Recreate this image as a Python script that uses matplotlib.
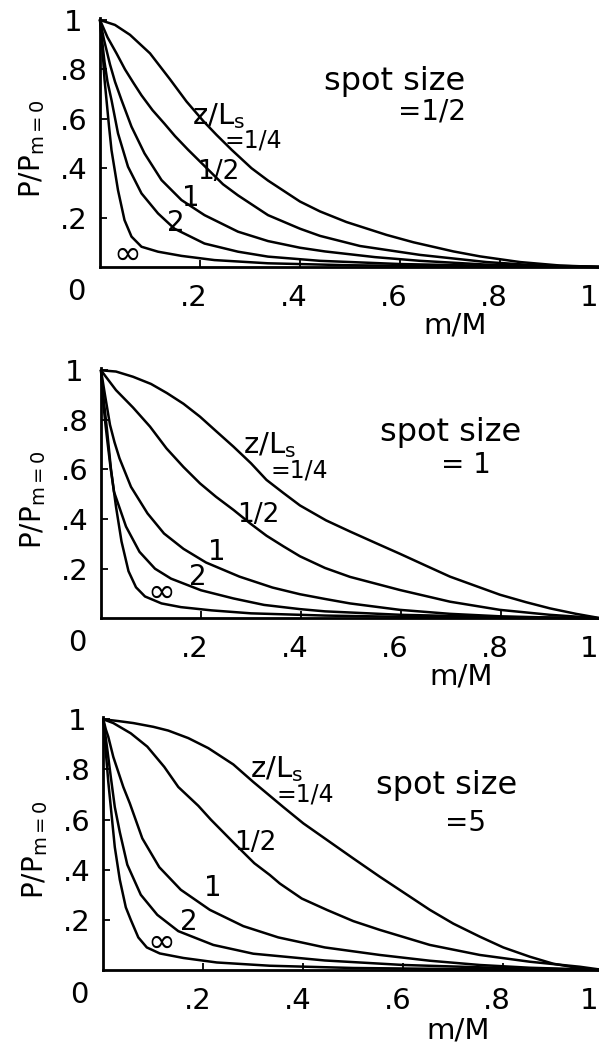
import matplotlib
matplotlib.use("Agg")
import matplotlib.pyplot as plt
from matplotlib.transforms import ScaledTranslation

plt.rcParams['font.family'] = ['DejaVu Sans']
plt.rcParams['mathtext.default'] = 'regular'

# ---------------- data ----------------
tick_vals = [0.2, 0.4, 0.6, 0.8, 1.0]
tick_labels = ['.2', '.4', '.6', '.8', '1']
spot_sizes = ['=1/2', '= 1', '=5']
curve_names = ['=1/4', '1/2', '1', '2', '\u221e']

# panel 1 : spot size = 1/2
p1_q_x = [0, 0.03, 0.06, 0.10, 0.14, 0.173, 0.207, 0.233, 0.263, 0.303, 0.336, 0.40, 0.44, 0.493, 0.573, 0.627, 0.707, 0.76, 0.84, 0.92, 1.0]
p1_q_y = [1.0, 0.98, 0.94, 0.865, 0.76, 0.67, 0.59, 0.535, 0.475, 0.40, 0.35, 0.265, 0.225, 0.182, 0.13, 0.10, 0.063, 0.043, 0.02, 0.006, 0.0]
p1_h_x = [0, 0.015, 0.033, 0.05, 0.067, 0.083, 0.105, 0.129, 0.15, 0.176, 0.216, 0.246, 0.276, 0.336, 0.40, 0.44, 0.52, 0.64, 0.773, 0.87, 1.0]
p1_h_y = [1.0, 0.93, 0.865, 0.80, 0.745, 0.695, 0.635, 0.58, 0.53, 0.475, 0.395, 0.335, 0.29, 0.21, 0.155, 0.126, 0.085, 0.049, 0.02, 0.007, 0.0]
p1_1_x = [0, 0.008, 0.02, 0.03, 0.043, 0.063, 0.089, 0.123, 0.163, 0.209, 0.276, 0.336, 0.40, 0.45, 0.55, 0.64, 0.77, 0.88, 1.0]
p1_1_y = [1.0, 0.92, 0.82, 0.75, 0.676, 0.568, 0.46, 0.352, 0.271, 0.21, 0.143, 0.105, 0.078, 0.063, 0.04, 0.025, 0.01, 0.004, 0.0]
p1_2_x = [0, 0.004, 0.009, 0.015, 0.023, 0.036, 0.056, 0.083, 0.116, 0.149, 0.209, 0.276, 0.336, 0.44, 0.6, 0.8, 1.0]
p1_2_y = [1.0, 0.92, 0.83, 0.75, 0.676, 0.541, 0.406, 0.298, 0.217, 0.155, 0.095, 0.062, 0.042, 0.025, 0.012, 0.004, 0.0]
p1_inf_x = [0, 0.003, 0.006, 0.009, 0.013, 0.018, 0.023, 0.036, 0.049, 0.063, 0.083, 0.116, 0.163, 0.229, 0.336, 0.5, 0.7, 1.0]
p1_inf_y = [1.0, 0.93, 0.85, 0.76, 0.676, 0.57, 0.473, 0.311, 0.19, 0.123, 0.082, 0.062, 0.045, 0.028, 0.015, 0.007, 0.003, 0.0]

# panel 2 : spot size = 1
p2_q_x = [0, 0.03, 0.064, 0.10, 0.132, 0.165, 0.198, 0.23, 0.265, 0.30, 0.331, 0.365, 0.398, 0.45, 0.498, 0.55, 0.598, 0.65, 0.698, 0.75, 0.798, 0.85, 0.898, 0.95, 1.0]
p2_q_y = [1.0, 0.995, 0.974, 0.945, 0.908, 0.865, 0.813, 0.755, 0.692, 0.625, 0.558, 0.505, 0.455, 0.395, 0.35, 0.303, 0.26, 0.212, 0.168, 0.13, 0.095, 0.065, 0.04, 0.018, 0.0]
p2_h_x = [0, 0.015, 0.03, 0.064, 0.098, 0.131, 0.165, 0.198, 0.23, 0.265, 0.30, 0.331, 0.365, 0.398, 0.448, 0.498, 0.598, 0.698, 0.798, 0.898, 1.0]
p2_h_y = [1.0, 0.96, 0.92, 0.85, 0.773, 0.685, 0.61, 0.544, 0.49, 0.437, 0.38, 0.333, 0.29, 0.25, 0.203, 0.167, 0.114, 0.067, 0.034, 0.014, 0.0]
p2_1_x = [0, 0.004, 0.008, 0.013, 0.018, 0.027, 0.037, 0.06, 0.093, 0.126, 0.165, 0.21, 0.277, 0.343, 0.398, 0.448, 0.498, 0.598, 0.698, 0.798, 0.9, 1.0]
p2_1_y = [1.0, 0.95, 0.9, 0.84, 0.78, 0.71, 0.645, 0.53, 0.423, 0.342, 0.28, 0.225, 0.168, 0.124, 0.097, 0.078, 0.06, 0.034, 0.018, 0.008, 0.003, 0.0]
p2_2_x = [0, 0.005, 0.009, 0.013, 0.019, 0.026, 0.05, 0.077, 0.108, 0.14, 0.2, 0.265, 0.326, 0.398, 0.448, 0.6, 0.8, 1.0]
p2_2_y = [1.0, 0.86, 0.78, 0.71, 0.61, 0.51, 0.37, 0.268, 0.2, 0.16, 0.113, 0.08, 0.054, 0.037, 0.028, 0.014, 0.005, 0.0]
p2_inf_x = [0, 0.003, 0.006, 0.012, 0.02, 0.03, 0.041, 0.055, 0.07, 0.088, 0.121, 0.16, 0.221, 0.3, 0.448, 0.6, 0.8, 1.0]
p2_inf_y = [1.0, 0.93, 0.87, 0.76, 0.6, 0.45, 0.31, 0.19, 0.125, 0.088, 0.06, 0.045, 0.032, 0.02, 0.011, 0.006, 0.002, 0.0]

# panel 3 : spot size = 5
p3_q_x = [0, 0.03, 0.06, 0.10, 0.13, 0.17, 0.21, 0.26, 0.30, 0.33, 0.36, 0.40, 0.45, 0.50, 0.553, 0.60, 0.653, 0.70, 0.753, 0.80, 0.853, 0.90, 0.953, 0.99]
p3_q_y = [1.0, 0.993, 0.985, 0.97, 0.955, 0.925, 0.885, 0.82, 0.75, 0.70, 0.65, 0.585, 0.515, 0.445, 0.372, 0.31, 0.24, 0.185, 0.133, 0.09, 0.053, 0.025, 0.007, 0.0]
p3_h_x = [0, 0.02, 0.055, 0.088, 0.122, 0.15, 0.19, 0.215, 0.262, 0.302, 0.333, 0.353, 0.397, 0.448, 0.50, 0.553, 0.653, 0.753, 0.853, 0.953, 1.0]
p3_h_y = [1.0, 0.985, 0.944, 0.891, 0.81, 0.73, 0.655, 0.60, 0.505, 0.426, 0.379, 0.345, 0.285, 0.239, 0.195, 0.16, 0.1, 0.06, 0.033, 0.013, 0.0]
p3_1_x = [0, 0.005, 0.01, 0.02, 0.03, 0.04, 0.053, 0.078, 0.112, 0.155, 0.213, 0.28, 0.35, 0.443, 0.553, 0.653, 0.753, 0.853, 0.953, 1.0]
p3_1_y = [1.0, 0.96, 0.93, 0.85, 0.79, 0.73, 0.665, 0.525, 0.41, 0.32, 0.24, 0.175, 0.13, 0.09, 0.06, 0.037, 0.02, 0.009, 0.003, 0.0]
p3_2_x = [0, 0.004, 0.008, 0.015, 0.023, 0.033, 0.048, 0.075, 0.108, 0.15, 0.22, 0.3, 0.443, 0.6, 0.8, 1.0]
p3_2_y = [1.0, 0.94, 0.88, 0.77, 0.65, 0.55, 0.42, 0.30, 0.22, 0.155, 0.1, 0.065, 0.038, 0.02, 0.008, 0.0]
p3_inf_x = [0, 0.005, 0.01, 0.015, 0.023, 0.033, 0.045, 0.055, 0.07, 0.087, 0.113, 0.16, 0.227, 0.333, 0.5, 0.75, 1.0]
p3_inf_y = [1.0, 0.87, 0.75, 0.65, 0.49, 0.36, 0.25, 0.2, 0.13, 0.09, 0.066, 0.048, 0.03, 0.017, 0.008, 0.003, 0.0]

panel_curves = [
    [(p1_q_x, p1_q_y), (p1_h_x, p1_h_y), (p1_1_x, p1_1_y), (p1_2_x, p1_2_y), (p1_inf_x, p1_inf_y)],
    [(p2_q_x, p2_q_y), (p2_h_x, p2_h_y), (p2_1_x, p2_1_y), (p2_2_x, p2_2_y), (p2_inf_x, p2_inf_y)],
    [(p3_q_x, p3_q_y), (p3_h_x, p3_h_y), (p3_1_x, p3_1_y), (p3_2_x, p3_2_y), (p3_inf_x, p3_inf_y)],
]

# ---------------- layout ----------------
W, H = 599, 1052
fig = plt.figure(figsize=(W / 100, H / 100), dpi=100)

# axes origin in pixels (x0, y0 from top) and pixels per unit of y
geom = [(100, 267, 247), (101, 618.3, 248), (103.3, 970, 250.7)]
YTOP = 1.01

# text positions (data coords) per panel
zls_pos = [(0.238, 0.612), (0.338, 0.697), (0.347, 0.803)]
name_pos = [
    [(0.306, 0.512), (0.236, 0.385), (0.182, 0.279), (0.152, 0.178), (0.054, 0.053)],
    [(0.396, 0.594), (0.314, 0.417), (0.232, 0.267), (0.194, 0.167), (0.120, 0.106)],
    [(0.405, 0.700), (0.305, 0.507), (0.219, 0.327), (0.171, 0.191), (0.115, 0.112)],
]
spot_pos = [(0.59, 0.75), (0.70, 0.749), (0.687, 0.734)]
spot_val_pos = [(0.664, 0.628), (0.73, 0.618), (0.725, 0.586)]
mM_pos = [(0.71, -0.235), (0.72, -0.235), (0.71, -0.24)]

name_sizes = [17, 19, 20, 20, 24]

for i, (x0, y0, sy) in enumerate(geom):
    ax = fig.add_axes([x0 / W, (H - y0) / H, 500 / W, sy * YTOP / H])
    ax.set_xlim(0, 1)
    ax.set_ylim(0, YTOP)
    for s in ('top', 'right'):
        ax.spines[s].set_visible(False)
    for s in ('left', 'bottom'):
        ax.spines[s].set_linewidth(2.0)
    ax.patch.set_visible(False)

    for cx, cy in panel_curves[i]:
        ax.plot(cx, cy, color='black', lw=1.8, solid_joinstyle='round',
                solid_capstyle='round', clip_on=False)

    ax.set_xticks(tick_vals)
    ax.set_xticklabels(tick_labels, fontsize=21)
    ax.set_yticks(tick_vals)
    ax.set_yticklabels(tick_labels, fontsize=21, ha='center')
    ax.tick_params(axis='x', direction='in', length=5, width=1.3, pad=12)
    ax.tick_params(axis='y', direction='in', length=5, width=1.3, pad=19)
    for lab in ax.get_xticklabels():
        dx = -6 if lab.get_text().startswith('.') else -11 - (x0 - 100)
        lab.set_transform(lab.get_transform() +
                          ScaledTranslation(dx / 100, 0, fig.dpi_scale_trans))

    ax.text(-0.047, -0.10, '0', fontsize=21, ha='center', va='center',
            transform=ax.transData, clip_on=False)

    ax.text(-0.136, 0.48, r'P/P$_{m=0}$', fontsize=20, rotation=90,
            ha='center', va='center', transform=ax.transData, clip_on=False)
    ax.text(mM_pos[i][0], mM_pos[i][1], 'm/M', fontsize=21,
            ha='center', va='center', transform=ax.transData, clip_on=False)

    ax.text(spot_pos[i][0], spot_pos[i][1], 'spot size', fontsize=23,
            ha='center', va='center')
    ax.text(spot_val_pos[i][0], spot_val_pos[i][1], spot_sizes[i], fontsize=20,
            ha='center', va='center')

    ax.text(zls_pos[i][0], zls_pos[i][1], r'z/L$_{s}$', fontsize=21,
            ha='center', va='center')
    for k, name in enumerate(curve_names):
        px, py = name_pos[i][k]
        ax.text(px, py, name, fontsize=name_sizes[k], ha='center', va='center')

fig.savefig('out.png', dpi=100, facecolor='white')
